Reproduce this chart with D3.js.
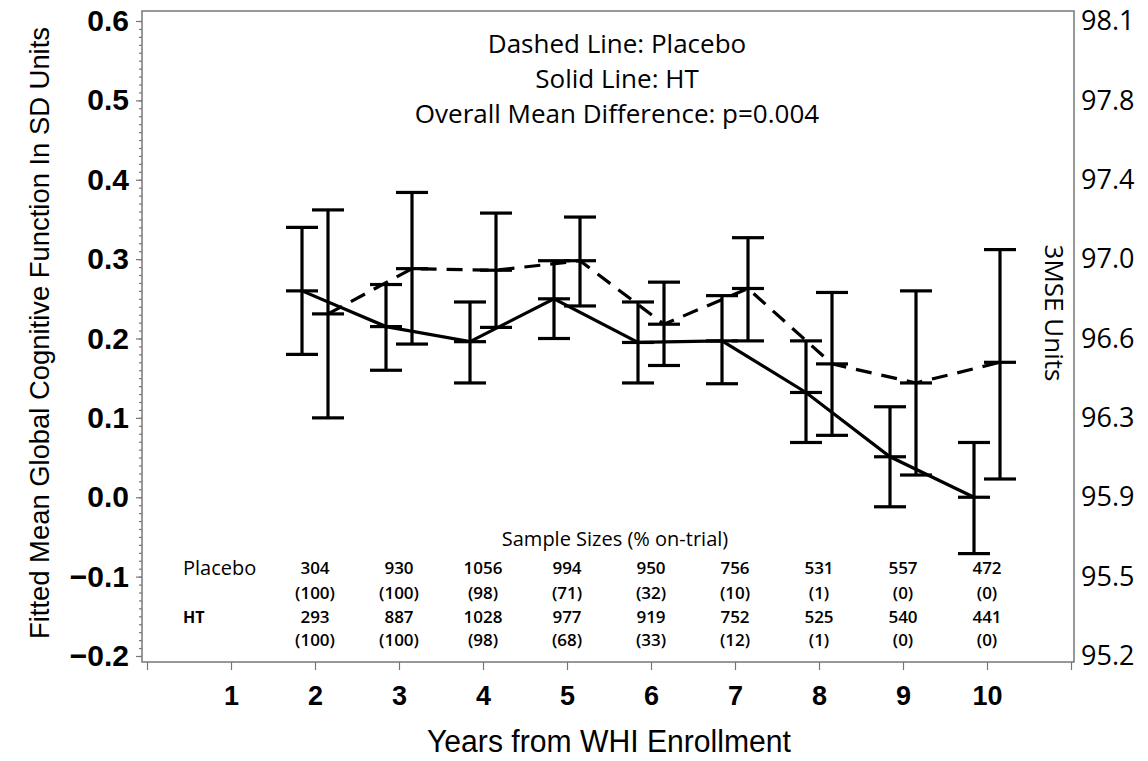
<!DOCTYPE html>
<html>
<head>
<meta charset="utf-8">
<script src="https://cdn.jsdelivr.net/npm/d3@7/dist/d3.min.js"></script>
<style>
	body { margin: 0; background: #ffffff; }
</style>
</head>
<body>
<svg id="chart" width="1148" height="761"></svg>
<script>
// years of follow-up
var years = [2, 3, 4, 5, 6, 7, 8, 9, 10];

// HT (solid line) : fitted mean and 95% limits, SD units
var htMean  = [0.260, 0.215, 0.196, 0.250, 0.195, 0.197, 0.132, 0.051, 0.000];
var htLower = [0.180, 0.160, 0.144, 0.200, 0.144, 0.143, 0.069, -0.012, -0.071];
var htUpper = [0.340, 0.268, 0.246, 0.298, 0.246, 0.254, 0.197, 0.114, 0.069];

// Placebo (dashed line)
var placeboMean  = [0.231, 0.288, 0.286, 0.298, 0.218, 0.263, 0.168, 0.144, 0.170];
var placeboLower = [0.100, 0.193, 0.214, 0.241, 0.166, 0.197, 0.078, 0.028, 0.023];
var placeboUpper = [0.362, 0.384, 0.358, 0.353, 0.271, 0.327, 0.258, 0.260, 0.312];

// sample sizes (% on-trial)
var placeboN   = [304, 930, 1056, 994, 950, 756, 531, 557, 472];
var placeboPct = [100, 100, 98, 71, 32, 10, 1, 0, 0];
var htN        = [293, 887, 1028, 977, 919, 752, 525, 540, 441];
var htPct      = [100, 100, 98, 68, 33, 12, 1, 0, 0];

// axis ticks
var xTicks = [0, 1, 2, 3, 4, 5, 6, 7, 8, 9, 10, 11];
var yTicks = [-0.2, -0.1, 0.0, 0.1, 0.2, 0.3, 0.4, 0.5, 0.6];
var rightLabels = ["95.2", "95.5", "95.9", "96.3", "96.6", "97.0", "97.4", "97.8", "98.1"];

var notes = ["Dashed Line: Placebo", "Solid Line: HT", "Overall Mean Difference: p=0.004"];

var SANS = "'Open Sans', 'Noto Sans', sans-serif";
var ARIAL = "'Liberation Sans', Arial, Helvetica, sans-serif";

var cognitionChartObj = {

	svg : null,
	x : null,
	y : null,

	layout : {
		left : 142,
		right : 1074,
		top : 11,
		bottom : 662,
		dodge : 13,		// HT left, placebo right of the year
		cap : 16
	},

	init : function(id) {
		var that = this;
		var l = that.layout;

		that.svg = d3.select(id);
		that.x = d3.scaleLinear().domain([0, 11]).range([l.left + 5, l.right - 3]);
		that.y = d3.scaleLinear().domain([-0.2, 0.6]).range([656, 21]);
	},

	draw : function() {
		var that = this;
		that.drawFrame();
		that.drawAxes();
		that.drawNotes();
		that.drawTable();
		that.drawSeries(htMean, htLower, htUpper, -that.layout.dodge, null);
		that.drawSeries(placeboMean, placeboLower, placeboUpper, that.layout.dodge, "16,10");
	},

	drawFrame : function() {
		var that = this;
		var l = that.layout;
		that.svg.append("rect")
			.attr("x", l.left).attr("y", l.top)
			.attr("width", l.right - l.left).attr("height", l.bottom - l.top)
			.attr("fill", "none").attr("stroke", "#777777").attr("stroke-width", 1.5);
	},

	drawAxes : function() {
		var that = this;
		var l = that.layout;
		var svg = that.svg;

		// minor ticks every 0.01
		var minor = svg.append("g").attr("transform", "translate(" + l.left + ",0)")
			.call(d3.axisLeft(that.y).tickValues(d3.range(-20, 61).map(function(d) { return d / 100; }))
				.tickSize(3).tickFormat(""));

		var left = svg.append("g").attr("transform", "translate(" + l.left + ",0)")
			.call(d3.axisLeft(that.y).tickValues(yTicks).tickSize(6).tickPadding(7).tickFormat(d3.format(".1f")));

		var bottom = svg.append("g").attr("transform", "translate(0," + l.bottom + ")")
			.call(d3.axisBottom(that.x).tickValues(xTicks).tickSize(8).tickPadding(16)
				.tickFormat(function(d) { return (d >= 1 && d <= 10) ? d : ""; }));

		var right = svg.append("g").attr("transform", "translate(" + l.right + ",0)")
			.call(d3.axisRight(that.y).tickValues(yTicks).tickSize(0).tickPadding(7)
				.tickFormat(function(d, i) { return rightLabels[i]; }));

		[minor, left, bottom, right].forEach(function(g) {
			g.select(".domain").remove();
			g.selectAll(".tick line").attr("stroke", "#777777").attr("stroke-width", 1.2);
		});

		left.selectAll("text").attr("font-family", ARIAL).attr("font-weight", "bold")
			.attr("font-size", "30px").attr("fill", "#000000");
		bottom.selectAll("text").attr("font-family", ARIAL).attr("font-weight", "bold")
			.attr("font-size", "27px").attr("fill", "#000000");
		right.selectAll("text").attr("font-family", SANS)
			.attr("font-size", "27px").attr("fill", "#000000");

		// axis titles
		svg.append("text")
			.attr("transform", "translate(39,333) rotate(-90)")
			.attr("text-anchor", "middle").attr("dominant-baseline", "central")
			.attr("font-family", ARIAL).attr("font-size", "28px")
			.attr("textLength", 612).attr("lengthAdjust", "spacingAndGlyphs")
			.text("Fitted  Mean  Global  Cognitive  Function  In  SD  Units");

		svg.append("text")
			.attr("x", 609).attr("y", 752)
			.attr("text-anchor", "middle")
			.attr("font-family", ARIAL).attr("font-size", "31px")
			.attr("textLength", 364).attr("lengthAdjust", "spacingAndGlyphs")
			.text("Years  from  WHI  Enrollment");

		svg.append("text")
			.attr("transform", "translate(1055,313) rotate(90)")
			.attr("text-anchor", "middle").attr("dominant-baseline", "central")
			.attr("font-family", SANS).attr("font-size", "26px")
			.text("3MSE Units");
	},

	drawNotes : function() {
		var that = this;
		that.svg.selectAll("text.note").data(notes).enter().append("text")
			.attr("class", "note")
			.attr("x", 617)
			.attr("y", function(d, i) { return 53 + i * 35; })
			.attr("text-anchor", "middle")
			.attr("font-family", SANS).attr("font-size", "26px").attr("font-weight", 500)
			.attr("fill", "#000000")
			.text(function(d) { return d; });
	},

	drawTable : function() {
		var that = this;
		var svg = that.svg;

		svg.append("text")
			.attr("x", 615).attr("y", 546)
			.attr("text-anchor", "middle")
			.attr("font-family", SANS).attr("font-size", "20px").attr("font-weight", 500)
			.text("Sample Sizes (% on-trial)");

		svg.append("text").attr("x", 183).attr("y", 575)
			.attr("font-family", SANS).attr("font-size", "20px").attr("font-weight", 500).text("Placebo");
		svg.append("text").attr("x", 183).attr("y", 623)
			.attr("font-family", SANS).attr("font-size", "16px").attr("font-weight", "bold").text("HT");

		var rows = [
			{ vals : placeboN, y : 574, pct : false },
			{ vals : placeboPct, y : 599, pct : true },
			{ vals : htN, y : 623, pct : false },
			{ vals : htPct, y : 646, pct : true }
		];
		rows.forEach(function(row) {
			svg.append("g").selectAll("text").data(row.vals).enter().append("text")
				.attr("x", function(d, i) { return that.x(years[i]); })
				.attr("y", row.y)
				.attr("text-anchor", "middle")
				.attr("font-family", SANS).attr("font-size", "17px").attr("font-weight", 600)
				.attr("fill", "#000000")
				.text(function(d) { return row.pct ? "(" + d + ")" : d; });
		});
	},

	drawSeries : function(mean, lower, upper, offset, dash) {
		var that = this;
		var l = that.layout;
		var g = that.svg.append("g").attr("stroke", "#000000").attr("stroke-width", 3.2).attr("fill", "none");
		var px = function(i) { return that.x(years[i]) + offset; };

		var line = d3.line()
			.x(function(d, i) { return px(i); })
			.y(function(d) { return that.y(d); });

		var path = g.append("path").datum(mean).attr("d", line);
		if (dash) {
			path.attr("stroke-dasharray", dash);
		}

		years.forEach(function(yr, i) {
			var cx = px(i);
			g.append("line").attr("x1", cx).attr("x2", cx)
				.attr("y1", that.y(upper[i])).attr("y2", that.y(lower[i]));
			[upper[i], mean[i], lower[i]].forEach(function(v) {
				g.append("line").attr("x1", cx - l.cap).attr("x2", cx + l.cap)
					.attr("y1", that.y(v)).attr("y2", that.y(v));
			});
		});
	}
};

cognitionChartObj.init("#chart");
cognitionChartObj.draw();
</script>
</body>
</html>
